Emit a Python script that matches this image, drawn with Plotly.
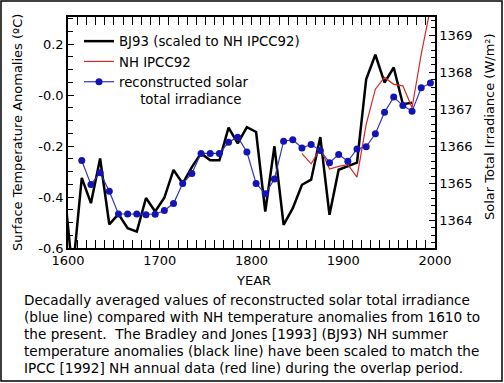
import plotly.graph_objects as go

# ---- data ----
bj_years = [1595, 1605, 1615, 1625, 1635, 1645, 1655, 1665, 1675, 1685, 1695,
            1705, 1715, 1725, 1735, 1745, 1755, 1765, 1775, 1785, 1795,
            1805, 1815, 1825, 1835, 1845, 1855, 1865, 1875, 1885, 1895,
            1905, 1915, 1925, 1935, 1945, 1955, 1965, 1975]
bj_temp = [-0.33, -0.70, -0.325, -0.424, -0.249, -0.507, -0.467, -0.522, -0.536, -0.404, -0.457,
           -0.403, -0.294, -0.347, -0.283, -0.229, -0.256, -0.256, -0.128, -0.19, -0.126,
           -0.145, -0.457, -0.201, -0.509, -0.444, -0.352, -0.332, -0.165, -0.470, -0.293,
           -0.28, -0.265, 0.062, 0.158, 0.049, 0.108, -0.036, -0.030]

ipcc_years = [1855, 1865, 1875, 1885, 1895, 1905, 1915, 1925, 1935, 1945, 1955, 1965, 1975, 1985, 1995]
ipcc_temp = [-0.23, -0.27, -0.21, -0.29, -0.28, -0.273, -0.322, -0.115, 0.023, 0.069, 0.042, 0.036, -0.05, 0.16, 0.34]

sol_years = [1615, 1625, 1635, 1645, 1655, 1665, 1675, 1685, 1695,
             1705, 1715, 1725, 1735, 1745, 1755, 1765, 1775, 1785, 1795,
             1805, 1815, 1825, 1835, 1845, 1855, 1865, 1875, 1885, 1895,
             1905, 1915, 1925, 1935, 1945, 1955, 1965, 1975, 1985, 1995]
sol_irr = [1365.62, 1364.97, 1365.29, 1364.79, 1364.18, 1364.18, 1364.18, 1364.16, 1364.17,
           1364.27, 1364.46, 1365.00, 1365.27, 1365.81, 1365.81, 1365.81, 1366.11, 1366.25, 1365.85,
           1365.00, 1364.72, 1365.12, 1366.14, 1366.18, 1365.96, 1366.05, 1365.89, 1365.56, 1365.78,
           1365.60, 1365.93, 1365.99, 1366.34, 1366.92, 1367.33, 1367.10, 1366.95, 1367.58, 1367.71]

temp_tickvals = [-0.6, -0.4, -0.2, 0.0, 0.2]
temp_ticktext = ["-0.6", "-0.4", "-0.2", "-0.0", "0.2"]
sol_tickvals = [1364, 1365, 1366, 1367, 1368, 1369]

caption_lines = [
    "Decadally averaged values of reconstructed solar total irradiance",
    "(blue line) compared with NH temperature anomalies from 1610 to",
    "the present.  The Bradley and Jones [1993] (BJ93) NH summer",
    "temperature anomalies (black line) have been scaled to match the",
    "IPCC [1992] NH annual data (red line) during the overlap period.",
]

FONT = "DejaVu Sans"
W, H = 504, 383
L, R, T, B = 68, 69, 17, 135
pw, ph = W - L - R, H - T - B

def px(x):
    return (x - L) / pw

def py(y):
    return (H - B - y) / ph

fig = go.Figure()
fig.add_trace(go.Scatter(x=bj_years, y=bj_temp, mode="lines",
                         line=dict(color="black", width=2.5),
                         name="BJ93 (scaled to NH IPCC92)"))
fig.add_trace(go.Scatter(x=ipcc_years, y=ipcc_temp, mode="lines",
                         line=dict(color="#d42828", width=1.2),
                         name="NH IPCC92"))
fig.add_trace(go.Scatter(x=sol_years, y=sol_irr, mode="lines+markers", yaxis="y2",
                         line=dict(color="#3434b8", width=1.2),
                         marker=dict(color="#1414b4", size=7),
                         name="reconstructed solar<br>\u00a0\u00a0\u00a0\u00a0\u00a0total irradiance"))

fig.update_layout(
    width=W, height=H,
    margin=dict(l=L, r=R, t=T, b=B),
    paper_bgcolor="white", plot_bgcolor="white",
    font=dict(family=FONT, size=13, color="black"),
    showlegend=True,
    legend=dict(x=px(79), y=py(26), xanchor="left", yanchor="top",
                bgcolor="rgba(0,0,0,0)", font=dict(size=13.3, family=FONT),
                valign="top", tracegroupgap=0),
    xaxis=dict(range=[1600, 2000], tickmode="linear", tick0=1600, dtick=100,
               ticks="inside", ticklen=8, tickwidth=1, tickcolor="black",
               minor=dict(ticks="inside", tickmode="linear", tick0=1600, dtick=10,
                          ticklen=5, tickcolor="black"),
               showline=True, linecolor="black", linewidth=1.5, mirror="allticks",
               showgrid=False, zeroline=False, tickfont=dict(size=13)),
    yaxis=dict(range=[-0.6, 0.306], tickmode="array", tickvals=temp_tickvals,
               ticktext=temp_ticktext, ticks="inside", ticklen=6, tickcolor="black",
               minor=dict(ticks="inside", tickmode="linear", tick0=-0.6, dtick=0.05,
                          ticklen=5, tickcolor="black"),
               showline=True, linecolor="black", linewidth=1.5,
               showgrid=False, zeroline=False, tickfont=dict(size=13)),
    yaxis2=dict(range=[1363.26, 1369.49], overlaying="y", side="right",
                tickmode="array", tickvals=sol_tickvals,
                ticks="inside", ticklen=6, tickcolor="black",
                minor=dict(ticks="inside", tickmode="linear", tick0=1364, dtick=0.2,
                           ticklen=4, tickcolor="black"),
                showline=True, linecolor="black", linewidth=1.5,
                showgrid=False, zeroline=False, tickfont=dict(size=13)),
)

fig.add_annotation(text="YEAR", xref="paper", yref="paper", x=px(253), y=py(280),
                   xanchor="center", yanchor="middle", showarrow=False,
                   font=dict(size=13, family=FONT))
fig.add_annotation(text="Surface Temperature Anomalies (\u00baC)", xref="paper", yref="paper",
                   x=px(17), y=py(133), textangle=-90, xanchor="center", yanchor="middle",
                   showarrow=False, font=dict(size=13, family=FONT))
fig.add_annotation(text="Solar Total Irradiance (W/m\u00b2)", xref="paper", yref="paper",
                   x=px(489), y=py(127), textangle=-90, xanchor="center", yanchor="middle",
                   showarrow=False, font=dict(size=13, family=FONT))
cap_y = [300, 317, 334, 351, 368]
for line, yy in zip(caption_lines, cap_y):
    fig.add_annotation(text=line, xref="paper", yref="paper", x=px(22), y=py(yy),
                       xanchor="left", yanchor="middle", align="left", showarrow=False,
                       font=dict(size=13.6, family=FONT))

fig.add_shape(type="rect", xref="paper", yref="paper",
              x0=px(1), x1=px(502), y0=py(381), y1=py(1),
              line=dict(color="black", width=1.5))

fig.write_html("out.html", config={"displayModeBar": False},
               post_script="document.body.style.margin='0px';")
